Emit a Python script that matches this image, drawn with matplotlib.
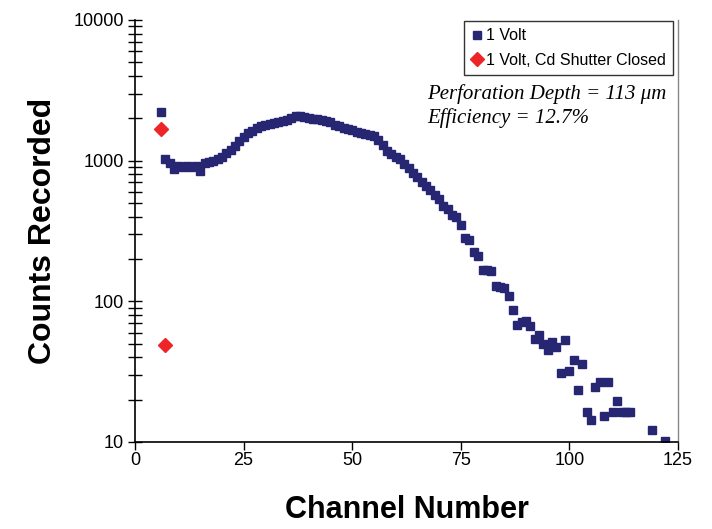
import numpy as np
import matplotlib
matplotlib.use("Agg")
import matplotlib.pyplot as plt
from matplotlib.ticker import LogLocator, NullFormatter, FixedLocator

# channel numbers and counts for the "1 Volt" run
channel = list(range(6, 115)) + [119, 122]
counts = [
    2230, 1030, 960, 870, 920, 900, 910, 900, 910, 850,          # 6-15
    960, 980, 1000, 1030, 1060, 1130, 1200, 1280, 1370, 1470,    # 16-25
    1570, 1620, 1700, 1760, 1800, 1830, 1860, 1880, 1900, 1950,  # 26-35
    2020, 2080, 2070, 2040, 2000, 1990, 1980, 1960, 1920, 1880,  # 36-45
    1800, 1760, 1720, 1690, 1650, 1600, 1570, 1540, 1520, 1490,  # 46-55
    1400, 1300, 1180, 1120, 1070, 1020, 940, 880, 820, 760,      # 56-65
    700, 660, 620, 570, 530, 480, 450, 413, 400, 350,            # 66-75
    280, 275, 226, 211, 168, 168, 165, 128, 126, 124,            # 76-85
    110, 87, 68, 71, 72, 67, 54, 58, 50, 45,                     # 86-95
    51, 47, 31, 53, 32, 38, 23.5, 36, 16.3, 14.4,                # 96-105
    24.5, 26.5, 15.2, 26.5, 16.3, 19.5, 16.3, 16.3, 16.3,        # 106-114
    12.2, 10.2,                                                  # 119, 122
]

# "1 Volt, Cd Shutter Closed"
closed_channel = [6, 7]
closed_counts = [1690, 49]

NAVY = "#262673"
RED = "#ee2528"

plt.rcParams["font.family"] = ["Liberation Sans", "DejaVu Sans"]

fig = plt.figure(figsize=(7.12, 5.29), dpi=100)
ax = fig.add_axes([135 / 712, 1 - 442 / 529, 543 / 712, 422 / 529])

ax.plot(channel, counts, ls="none", marker="s", ms=5.6, color=NAVY,
        mec=NAVY, label="1 Volt")
ax.plot(closed_channel, closed_counts, ls="none", marker="D", ms=7,
        color=RED, mec=RED, label="1 Volt, Cd Shutter Closed")

ax.set_yscale("log")
ax.set_ylim(10, 10000)
ax.set_xlim(0, 125)
ax.xaxis.set_major_locator(FixedLocator([0, 25, 50, 75, 100, 125]))
ax.yaxis.set_major_locator(FixedLocator([10, 100, 1000, 10000]))
ax.set_yticklabels(["10", "100", "1000", "10000"])
ax.yaxis.set_minor_locator(LogLocator(base=10, subs=np.arange(2, 10)))
ax.yaxis.set_minor_formatter(NullFormatter())

ax.tick_params(axis="y", which="both", direction="inout", length=10,
               width=1, labelsize=13, pad=3)
ax.tick_params(axis="x", which="major", direction="out", length=6,
               width=1, labelsize=13, pad=1)

for side in ["left", "bottom"]:
    ax.spines[side].set_color("black")
    ax.spines[side].set_linewidth(1.2)
ax.spines["top"].set_visible(False)
ax.spines["right"].set_color("#888888")
ax.spines["right"].set_linewidth(1.0)

ax.set_xlabel("Channel Number", fontsize=22, fontweight="bold", labelpad=19)
ax.set_ylabel("Counts Recorded", fontsize=23, fontweight="bold", labelpad=11)

leg = ax.legend(loc="upper right", bbox_to_anchor=(673 / 712, 1 - 21 / 529),
                bbox_transform=fig.transFigure, fontsize=11.5, frameon=True,
                fancybox=False, borderpad=0.45, handlelength=0.7,
                handletextpad=0.2, labelspacing=0.6, borderaxespad=0)
leg.get_frame().set_edgecolor("black")
leg.get_frame().set_linewidth(1.0)

ax.text(427 / 712, 1 - 106 / 529,
        "Perforation Depth = 113 \u03bcm\nEfficiency = 12.7%",
        transform=fig.transFigure, family=["Liberation Serif", "DejaVu Serif"],
        style="italic", fontsize=15, va="center", ha="left",
        linespacing=1.25)

fig.savefig("out.png", dpi=100)
